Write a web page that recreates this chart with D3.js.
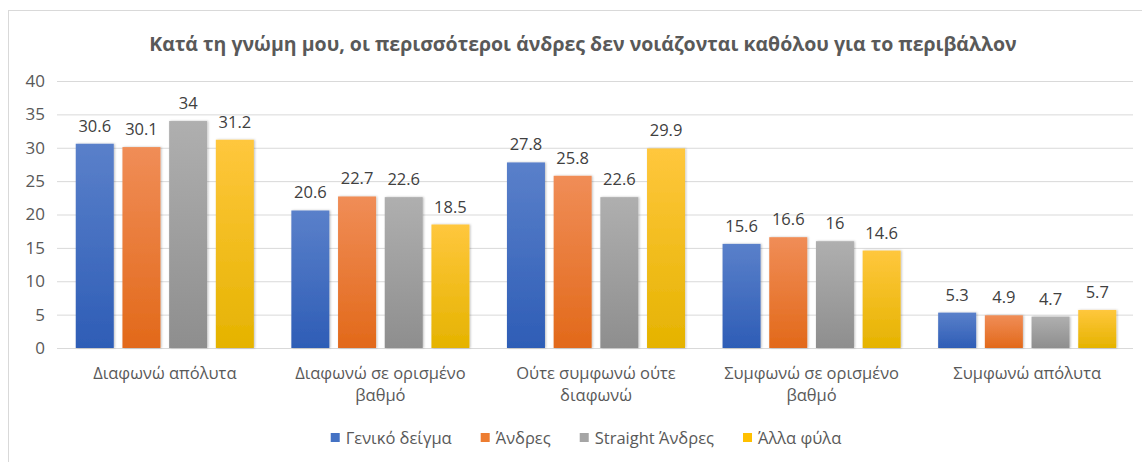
<!DOCTYPE html>
<html>
<head>
<meta charset="utf-8">
<script src="https://cdn.jsdelivr.net/npm/d3@7"></script>
<style>
  body { margin: 0; background: #fff; }
  text { font-family: "Open Sans", "Noto Sans", sans-serif; }
</style>
</head>
<body>
<svg id="chart" width="1142" height="462"></svg>
<script>
var categories = [
  ['Διαφωνώ απόλυτα'],
  ['Διαφωνώ σε ορισμένο', 'βαθμό'],
  ['Ούτε συμφωνώ ούτε', 'διαφωνώ'],
  ['Συμφωνώ σε ορισμένο', 'βαθμό'],
  ['Συμφωνώ απόλυτα']
];
var seriesNames = ['Γενικό δείγμα', 'Άνδρες', 'Straight Άνδρες', 'Άλλα φύλα'];
var general = [30.6, 20.6, 27.8, 15.6, 5.3];
var men = [30.1, 22.7, 25.8, 16.6, 4.9];
var straightMen = [34, 22.6, 22.6, 16, 4.7];
var otherGenders = [31.2, 18.5, 29.9, 14.6, 5.7];
var yTicks = [0, 5, 10, 15, 20, 25, 30, 35, 40];

var series = [general, men, straightMen, otherGenders];
// top / bottom colours of the excel-like gradient
var colors = [
  ['#5a80ca', '#2e5db6'],
  ['#f08d57', '#e2691a'],
  ['#afafaf', '#8e8e8e'],
  ['#ffc73d', '#e5b300']
];
var legendColors = ['#4472c4', '#ed7d31', '#a5a5a5', '#ffc000'];

var svg = d3.select('#chart');
var margin = {left: 57, right: 7, top: 81, bottom: 114};
var W = 1142, H = 462;

var defs = svg.append('defs');
colors.forEach(function(c, i) {
  var g = defs.append('linearGradient')
    .attr('id', 'grad' + i)
    .attr('x1', 0).attr('y1', 0).attr('x2', 0).attr('y2', 1);
  g.append('stop').attr('offset', '0%').attr('stop-color', c[0]);
  g.append('stop').attr('offset', '100%').attr('stop-color', c[1]);
});
var f = defs.append('filter').attr('id', 'shadow')
  .attr('x', '-20%').attr('y', '-5%').attr('width', '140%').attr('height', '110%');
f.append('feDropShadow').attr('dx', 1).attr('dy', 0).attr('stdDeviation', 1)
  .attr('flood-color', '#000').attr('flood-opacity', 0.25);

// chart frame
svg.append('rect')
  .attr('x', 8.5).attr('y', 10.5)
  .attr('width', 1140).attr('height', 460)
  .attr('fill', 'none').attr('stroke', '#d9d9d9');

var x0 = d3.scaleBand()
  .domain(d3.range(categories.length))
  .range([margin.left, W - margin.right])
  .paddingInner(0.174)
  .paddingOuter(0.087);

var x1 = d3.scaleBand()
  .domain(d3.range(series.length))
  .range([0, x0.bandwidth()])
  .paddingInner(0.186);

var y = d3.scaleLinear()
  .domain([0, 40])
  .range([H - margin.bottom, margin.top]);

// gridlines
var yAxis = d3.axisLeft(y)
  .tickValues(yTicks)
  .tickSize(-(W - margin.left - margin.right - 2))
  .tickPadding(12)
  .tickFormat(d3.format('d'));

var ga = svg.append('g')
  .attr('transform', 'translate(' + margin.left + ',0)')
  .call(yAxis);
ga.select('.domain').remove();
ga.selectAll('.tick line').attr('stroke', '#d9d9d9').attr('stroke-width', 1);
ga.selectAll('.tick text')
  .attr('fill', '#595959')
  .style('font-family', '"Open Sans", sans-serif')
  .style('font-size', '17px');

// bars
var groups = svg.append('g').selectAll('g')
  .data(categories)
  .enter().append('g')
  .attr('transform', function(d, i) { return 'translate(' + x0(i) + ',0)'; });

groups.selectAll('rect')
  .data(function(d, i) { return series.map(function(s, j) { return {s: j, v: s[i]}; }); })
  .enter().append('rect')
  .attr('x', function(d) { return x1(d.s); })
  .attr('y', function(d) { return y(d.v); })
  .attr('width', x1.bandwidth())
  .attr('height', function(d) { return y(0) - y(d.v); })
  .attr('fill', function(d) { return 'url(#grad' + d.s + ')'; })
  .attr('filter', 'url(#shadow)');

groups.selectAll('text.val')
  .data(function(d, i) { return series.map(function(s, j) { return {s: j, v: s[i]}; }); })
  .enter().append('text')
  .attr('class', 'val')
  .attr('x', function(d) { return x1(d.s) + x1.bandwidth() / 2; })
  .attr('y', function(d) { return y(d.v) - 12; })
  .attr('text-anchor', 'middle')
  .attr('fill', '#404040')
  .style('font-size', '16.5px')
  .text(function(d) { return d.v; });

// category labels
var cl = svg.append('g').selectAll('text')
  .data(categories)
  .enter().append('text')
  .attr('text-anchor', 'middle')
  .attr('fill', '#595959')
  .style('font-size', '16.5px')
  .attr('x', function(d, i) { return x0(i) + x0.bandwidth() / 2; })
  .attr('y', y(0) + 31);
cl.selectAll('tspan')
  .data(function(d) { return d; })
  .enter().append('tspan')
  .attr('x', function() { return this.parentNode.getAttribute('x'); })
  .attr('dy', function(d, i) { return i === 0 ? 0 : 22; })
  .text(function(d) { return d; });

// title
svg.append('text')
  .attr('x', 583).attr('y', 51)
  .attr('text-anchor', 'middle')
  .attr('fill', '#595959')
  .style('font-size', '19.5px')
  .style('font-weight', 'bold')
  .text('Κατά τη γνώμη μου, οι περισσότεροι άνδρες δεν νοιάζονται καθόλου για το περιβάλλον');

// legend, centred under the plot
var legend = svg.append('g').attr('transform', 'translate(0,438)');
var lx = 0;
seriesNames.forEach(function(name, i) {
  var item = legend.append('g').attr('transform', 'translate(' + lx + ',0)');
  item.append('rect').attr('x', 0).attr('y', -5).attr('width', 9).attr('height', 9)
    .attr('fill', legendColors[i]);
  var t = item.append('text').attr('x', 15).attr('y', 5.5)
    .attr('fill', '#595959').style('font-size', '16.5px').text(name);
  lx += 15 + t.node().getComputedTextLength() + (i < seriesNames.length - 1 ? 29 : 0);
});
legend.attr('transform', 'translate(' + (586 - lx / 2) + ',438)');
</script>
</body>
</html>
